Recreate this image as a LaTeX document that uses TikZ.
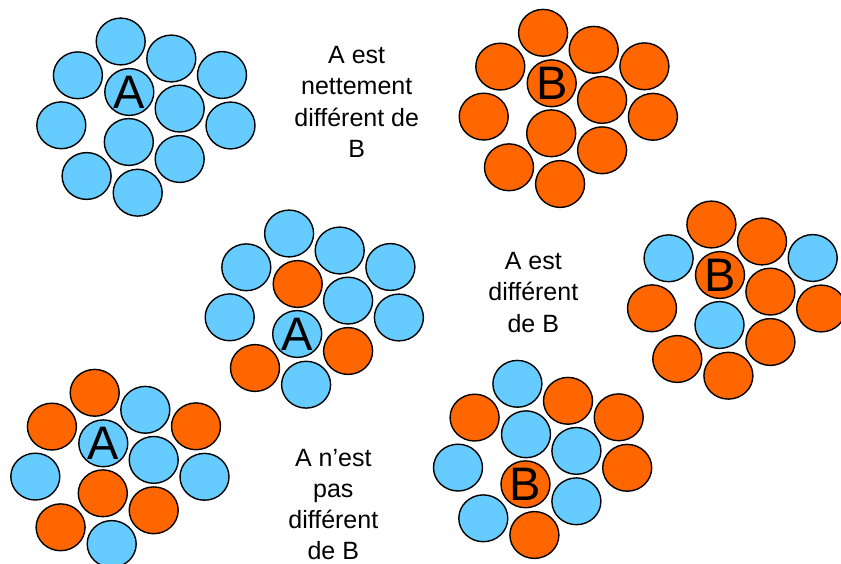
\documentclass[tikz,border=0pt]{standalone}
\usepackage{fontspec}
\setmainfont{Liberation Sans}
\usetikzlibrary{shapes.geometric}

\definecolor{bleuA}{RGB}{102,204,255}
\definecolor{orangeB}{RGB}{255,102,0}

% one group of 12 discs: name, x, y, colours, index of the lettered disc, letter
\newcommand\grappe[6]{%
  \foreach \i/\dx/\dy in {1/-8.6/-50.5, 2/-51.4/-16.7, 3/0/0, 4/42/-33.5,
      5/92.7/-17, 6/-68/33.3, 7/50.4/16.6, 8/101.2/33.5, 9/-0.5/50,
      10/50.4/67, 11/-42.7/84, 12/8.4/100.7} {
    \pgfmathparse{{#4}[\i-1]}\let\teinte\pgfmathresult
    \ifnum\i=#5\relax \def\lettre{#6}\else \def\lettre{}\fi
    \node[bille, fill=\teinte] (#1-\i) at (#2+\dx, #3+\dy)
      {\raisebox{-.5\height}[0pt][0pt]{\makebox[0pt]{\lettre}}};
  }%
}

\begin{document}
\begin{tikzpicture}[
  x=1pt, y=-1pt,
  bille/.style={ellipse, draw=black, line width=1.4pt, minimum width=49pt,
    minimum height=46.8pt, inner sep=0pt, font=\fontsize{47}{47}\selectfont},
  texte/.style={align=center, inner sep=0pt, font=\fontsize{25}{31.5}\selectfont}
]
\useasboundingbox (0,0) rectangle (841,564);

% top row
\grappe{g1}{129.3}{92}{"bleuA","bleuA","bleuA","bleuA","bleuA","bleuA","bleuA","bleuA","bleuA","bleuA","bleuA","bleuA"}{3}{A}
\grappe{g2}{551.7}{83.3}{"orangeB","orangeB","orangeB","orangeB","orangeB","orangeB","orangeB","orangeB","orangeB","orangeB","orangeB","orangeB"}{3}{B}

% middle row
\grappe{g3}{297.7}{284}{"bleuA","bleuA","orangeB","bleuA","bleuA","bleuA","bleuA","bleuA","bleuA","orangeB","orangeB","bleuA"}{9}{A}
\grappe{g4}{720}{275}{"orangeB","bleuA","orangeB","orangeB","bleuA","orangeB","orangeB","orangeB","bleuA","orangeB","orangeB","orangeB"}{3}{B}

% bottom row
\grappe{g5}{103.3}{443.3}{"orangeB","orangeB","bleuA","bleuA","orangeB","bleuA","bleuA","bleuA","orangeB","orangeB","orangeB","bleuA"}{3}{A}
\grappe{g6}{526}{434.3}{"bleuA","orangeB","bleuA","orangeB","orangeB","bleuA","bleuA","orangeB","orangeB","bleuA","bleuA","orangeB"}{9}{B}

\node[texte] (txt1) at (356.7,101.7) {A est\\nettement\\différent de\\B};
\node[texte] (txt2) at (533.3,292.5) {A est\\différent\\de B};
\node[texte, font=\fontsize{25}{30.9}\selectfont] (txt3) at (333.3,504.5)
  {A n’est\\pas\\différent\\de B};

\end{tikzpicture}
\end{document}
